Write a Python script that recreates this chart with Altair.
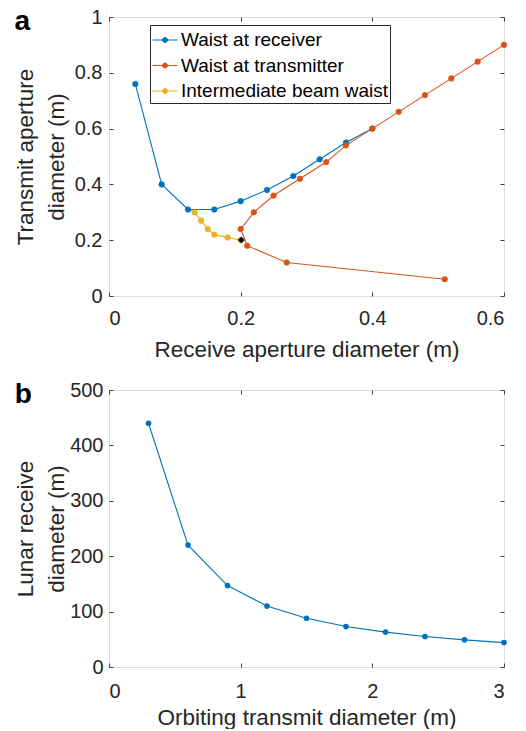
import altair as alt
import pandas as pd

# ---- panel a data ----
series_names = ["Waist at receiver", "Waist at transmitter", "Intermediate beam waist"]
series_colors = ["#0072BD", "#D95319", "#EDB120"]

recv_x = [0.04, 0.08, 0.12, 0.16, 0.20, 0.24, 0.28, 0.32, 0.36, 0.40]
recv_y = [0.76, 0.40, 0.31, 0.31, 0.34, 0.38, 0.43, 0.49, 0.55, 0.60]

tx_x = [0.51, 0.27, 0.21, 0.20, 0.22, 0.25, 0.29, 0.33, 0.36, 0.40, 0.44, 0.48, 0.52, 0.56, 0.60]
tx_y = [0.06, 0.12, 0.18, 0.24, 0.30, 0.36, 0.42, 0.48, 0.54, 0.60, 0.66, 0.72, 0.78, 0.84, 0.90]

mid_x = [0.12, 0.13, 0.14, 0.15, 0.16, 0.18, 0.20]
mid_y = [0.31, 0.30, 0.27, 0.24, 0.22, 0.21, 0.20]

star_x = [0.201]
star_y = [0.201]

# ---- panel b data ----
orb_x = [0.3, 0.6, 0.9, 1.2, 1.5, 1.8, 2.1, 2.4, 2.7, 3.0]
lunar_y = [440, 220, 147, 110, 88, 73, 63, 55, 49, 44]

rows = []
for name, xs, ys in zip(series_names, [recv_x, tx_x, mid_x], [recv_y, tx_y, mid_y]):
    for i, (xv, yv) in enumerate(zip(xs, ys)):
        rows.append({"series": name, "x": xv, "y": yv, "idx": i})
dfa = pd.DataFrame(rows)
dfa_pts = dfa[~((dfa.series == series_names[2]) & (dfa.idx == 0))]
dfstar = pd.DataFrame({"x": star_x, "y": star_y})
dfb = pd.DataFrame({"x": orb_x, "y": lunar_y})

FONT = "Liberation Sans"
TXT = "#262626"
AX = "#404040"
TICK = 4
LABEL_FS = 20
TITLE_FS = 22.5

def axis_kw(**kw):
    base = dict(grid=False, domain=False, tickSize=TICK, offset=-TICK, tickColor=AX,
                labelFontSize=LABEL_FS, titleFontSize=TITLE_FS, labelColor=TXT, titleColor=TXT,
                labelFont=FONT, titleFont=FONT, titleFontWeight="normal", titleLineHeight=31)
    base.update(kw)
    return alt.Axis(**base)

def make_panel(data_layers, df, xscale, yscale, xticks, yticks, fmt_x, fmt_y, xtitle, ytitle,
               width, height, label, xlabpad, xtitpad, ylabpad, ytitpad):
    main_axes = alt.Chart(df).mark_point(opacity=0).encode(
        x=alt.X("x:Q", scale=xscale,
                axis=axis_kw(orient="bottom", values=xticks, format=fmt_x, title=xtitle,
                             labelPadding=xlabpad, titlePadding=xtitpad)),
        y=alt.Y("y:Q", scale=yscale,
                axis=axis_kw(orient="left", values=yticks, format=fmt_y, title=ytitle,
                             labelPadding=ylabpad, titlePadding=ytitpad)),
    )
    opp_axes = alt.Chart(df).mark_point(opacity=0).encode(
        x=alt.X("x:Q", scale=xscale,
                axis=axis_kw(orient="top", values=xticks, labels=False, title=None)),
        y=alt.Y("y:Q", scale=yscale,
                axis=axis_kw(orient="right", values=yticks, labels=False, title=None)),
    )
    return alt.layer(main_axes, opp_axes, *data_layers).resolve_axis(
        x="independent", y="independent"
    ).properties(
        width=width, height=height,
        title=alt.TitleParams(label, anchor="start", frame="bounds", fontSize=28, fontWeight="bold",
                              font=FONT, color="#000000", baseline="alphabetic", offset=-51),
    )

# ---------- panel a ----------
xa_scale = alt.Scale(domain=[0, 0.6], nice=False, zero=False)
ya_scale = alt.Scale(domain=[0, 1], nice=False, zero=False)
xa = alt.X("x:Q", scale=xa_scale, axis=None)
ya = alt.Y("y:Q", scale=ya_scale, axis=None)

color_scale = alt.Scale(domain=series_names, range=series_colors)

lines_a = alt.Chart(dfa).mark_line(strokeWidth=1.1).encode(
    x=xa, y=ya,
    color=alt.Color("series:N", scale=color_scale, legend=None),
    order="idx:Q",
    detail="series:N",
)
legend = alt.Legend(
    title=None, orient="none", legendX=41, legendY=8,
    symbolType="M-1,0H1M-0.2,0a0.2,0.2 0 1,0 0.4,0a0.2,0.2 0 1,0 -0.4,0",
    symbolSize=625, symbolStrokeWidth=1.0,
    labelFontSize=19, labelFont=FONT, labelColor="#000000", labelOffset=3,
    rowPadding=2.5, padding=2, strokeColor="#262626", fillColor="#ffffff",
    labelLimit=400,
)
pts_a = alt.Chart(dfa_pts).mark_point(filled=True, size=32, strokeWidth=0.5, opacity=1).encode(
    x=xa, y=ya,
    fill=alt.Fill("series:N", scale=color_scale, legend=legend),
    stroke=alt.Stroke("series:N", scale=color_scale, legend=legend),
)
star = alt.Chart(dfstar).mark_point(shape="diamond", filled=True, size=45, color="#000000", opacity=1).encode(
    x=xa, y=ya
)

panel_a = make_panel([lines_a, pts_a, star], dfa, xa_scale, ya_scale,
                     [0, 0.2, 0.4, 0.6], [0, 0.2, 0.4, 0.6, 0.8, 1], "~r", "~r",
                     "Receive aperture diameter (m)", ["Transmit aperture", "diameter (m)"],
                     395, 279, "a", 12, 10, 7, 5.7)

# ---------- panel b ----------
xb_scale = alt.Scale(domain=[0, 3], nice=False, zero=False)
yb_scale = alt.Scale(domain=[0, 500], nice=False, zero=False)
xb = alt.X("x:Q", scale=xb_scale, axis=None)
yb = alt.Y("y:Q", scale=yb_scale, axis=None)

line_b = alt.Chart(dfb).mark_line(strokeWidth=1.1, color=series_colors[0]).encode(x=xb, y=yb)
pts_b = alt.Chart(dfb).mark_point(filled=True, size=32, color=series_colors[0], opacity=1).encode(x=xb, y=yb)

panel_b = make_panel([line_b, pts_b], dfb, xb_scale, yb_scale,
                     [0, 1, 2, 3], [0, 100, 200, 300, 400, 500], "d", "d",
                     "Orbiting transmit diameter (m)", ["Lunar receive", "diameter (m)"],
                     395, 277, "b", 14, 5, 6, 1)

chart = alt.concat(panel_a, panel_b, columns=1, spacing=18).resolve_scale(
    fill="independent", stroke="independent"
).properties(
    padding={"left": 5, "top": -2, "right": 2, "bottom": 0}
).configure_view(
    stroke=AX, strokeWidth=1
).configure(background="white")

chart.save("out.html", embed_options={"renderer": "svg", "actions": False})
